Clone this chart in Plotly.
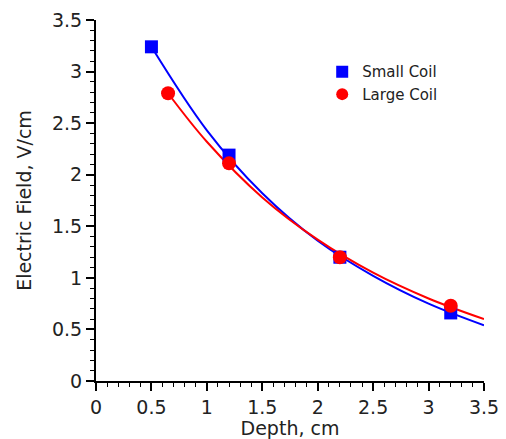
import plotly.graph_objects as go

# Measured points
small_x = [0.5, 1.2, 2.2, 3.2]
small_y = [3.24, 2.19, 1.20, 0.66]
large_x = [0.65, 1.2, 2.2, 3.2]
large_y = [2.79, 2.11, 1.20, 0.73]

# Fitted curves
small_fit_x = [0.5, 1.0, 1.5, 2.0, 2.5, 3.0, 3.5]
small_fit_y = [3.24, 2.43, 1.82, 1.36, 1.02, 0.75, 0.54]
large_fit_x = [0.65, 1.0, 1.5, 2.0, 2.5, 3.0, 3.5]
large_fit_y = [2.79, 2.32, 1.78, 1.37, 1.05, 0.80, 0.60]

BLUE = "#0000ff"
RED = "#ff0000"
FONT = "DejaVu Sans, Verdana, sans-serif"

fig = go.Figure()
fig.add_trace(go.Scatter(x=small_fit_x, y=small_fit_y, mode="lines",
                         line=dict(color=BLUE, width=2, shape="spline"),
                         showlegend=False, hoverinfo="skip"))
fig.add_trace(go.Scatter(x=large_fit_x, y=large_fit_y, mode="lines",
                         line=dict(color=RED, width=2, shape="spline"),
                         showlegend=False, hoverinfo="skip"))
fig.add_trace(go.Scatter(x=small_x, y=small_y, mode="markers", name="Small Coil",
                         marker=dict(symbol="square", size=13, color=BLUE)))
fig.add_trace(go.Scatter(x=large_x, y=large_y, mode="markers", name="Large Coil",
                         marker=dict(symbol="circle", size=14, color=RED)))

axis_common = dict(
    showgrid=False, zeroline=False, showline=True, linecolor="black", linewidth=2,
    ticks="outside", ticklen=8, tickwidth=1.5, tickcolor="black",
    tickfont=dict(family=FONT, size=19, color="#222"),
    minor=dict(ticks="outside", ticklen=4, dtick=0.1, tickcolor="black", tickwidth=1),
    automargin=False,
)

fig.update_xaxes(range=[0, 3.5], dtick=0.5, tick0=0,
                 title=dict(text="Depth, cm", font=dict(family=FONT, size=19, color="#222")),
                 **axis_common)
fig.update_yaxes(range=[0, 3.5], dtick=0.5, tick0=0,
                 title=dict(text="Electric Field, V/cm", font=dict(family=FONT, size=19, color="#222")),
                 **axis_common)

fig.update_layout(
    width=506, height=439,
    margin=dict(l=96, r=22, t=20, b=58),
    plot_bgcolor="white", paper_bgcolor="white",
    legend=dict(x=0.583, y=0.902, xanchor="left", yanchor="top",
                font=dict(family=FONT, size=15, color="#222"),
                bgcolor="rgba(0,0,0,0)", tracegroupgap=0, itemsizing="constant"),
)

fig.write_html("out.html")
